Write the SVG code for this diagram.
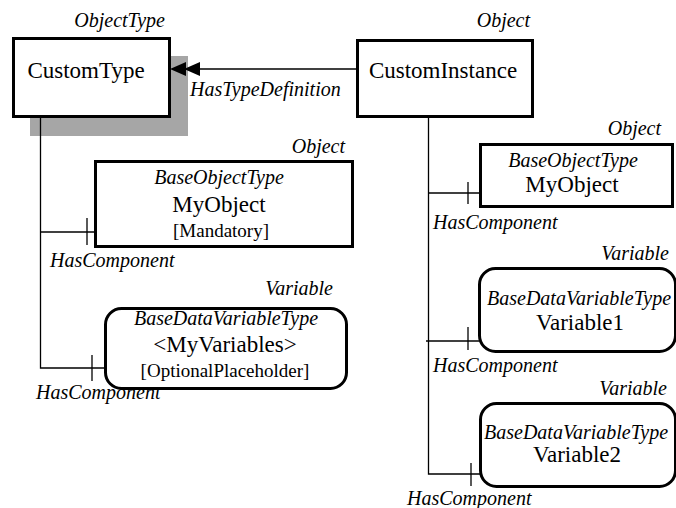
<svg xmlns="http://www.w3.org/2000/svg" width="676" height="508" viewBox="0 0 676 508">
<style>
.box{fill:#fff;stroke:#000;stroke-width:3}
.ln{fill:none;stroke:#000;stroke-width:1.3}
text{font-family:"Liberation Serif","Times New Roman",Times,"DejaVu Serif",serif;fill:#000}
.main{font-size:23px}
.it{font-size:20px;font-style:italic}
.br{font-size:19px}
.m{text-anchor:middle}
.e{text-anchor:end}
</style>
<rect width="676" height="508" fill="#fff"/>
<g id="CustomType">
  <rect x="30" y="56" width="158" height="80" fill="#a6a6a6"/>
  <rect class="box" x="13.5" y="38.5" width="156" height="78"/>
  <text class="main m" x="86" y="78">CustomType</text>
  <text class="it e" x="165" y="27">ObjectType</text>
</g>
<g id="CustomInstance">
  <rect class="box" x="357.5" y="40.5" width="175" height="76"/>
  <text class="main m" x="443" y="78">CustomInstance</text>
  <text class="it e" x="530" y="27">Object</text>
</g>
<g id="MyObjectLeft">
  <rect class="box" x="95.5" y="161.5" width="257" height="85"/>
  <text class="it m" x="219" y="184">BaseObjectType</text>
  <text class="main m" x="219" y="212">MyObject</text>
  <text class="br m" x="221" y="237">[Mandatory]</text>
  <text class="it e" x="345" y="153">Object</text>
</g>
<g id="MyVariables">
  <rect class="box" x="105.5" y="308.5" width="241" height="80" rx="16"/>
  <text class="it m" x="226" y="325">BaseDataVariableType</text>
  <text class="main m" x="225" y="352">&lt;MyVariables&gt;</text>
  <text class="br m" x="225" y="377">[OptionalPlaceholder]</text>
  <text class="it e" x="333" y="295">Variable</text>
</g>
<g id="MyObjectRight">
  <rect class="box" x="480.5" y="144.5" width="192" height="62"/>
  <text class="it m" x="573" y="167">BaseObjectType</text>
  <text class="main m" x="572" y="192">MyObject</text>
  <text class="it e" x="661" y="135">Object</text>
</g>
<g id="Variable1">
  <rect class="box" x="479.5" y="268.5" width="196" height="83" rx="16"/>
  <text class="it" x="487" y="305">BaseDataVariableType</text>
  <text class="main m" x="580" y="330">Variable1</text>
  <text class="it e" x="669" y="260">Variable</text>
</g>
<g id="Variable2">
  <rect class="box" x="480.5" y="403.5" width="195" height="83" rx="16"/>
  <text class="it" x="484" y="439">BaseDataVariableType</text>
  <text class="main m" x="577" y="462">Variable2</text>
  <text class="it e" x="667" y="395">Variable</text>
</g>
<g id="connectors">
  <path class="ln" d="M358,69 H198"/>
  <path d="M184,69 L200,62 L200,76 Z M170,69 L186,62 L186,76 Z" fill="#000"/>
  <text class="it" x="190" y="96">HasTypeDefinition</text>
  <path class="ln" d="M40.5,118 V368 H105"/>
  <path class="ln" d="M40.5,232 H95"/>
  <path class="ln" d="M87,218 V245"/>
  <path class="ln" d="M92,355 V381"/>
  <text class="it" x="50" y="267">HasComponent</text>
  <text class="it" x="36" y="399">HasComponent</text>
  <path class="ln" d="M428.5,118 V474 H480"/>
  <path class="ln" d="M428.5,193 H480"/>
  <path class="ln" d="M426,341 H479"/>
  <path class="ln" d="M468,182 V204"/>
  <path class="ln" d="M468,327 V350"/>
  <path class="ln" d="M471,463 V486"/>
  <text class="it" x="433" y="229">HasComponent</text>
  <text class="it" x="433" y="372">HasComponent</text>
  <text class="it" x="407" y="505">HasComponent</text>
</g>
</svg>
